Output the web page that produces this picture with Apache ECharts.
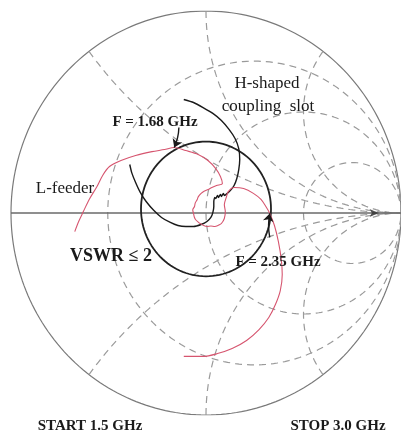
<!DOCTYPE html>
<html>
<head>
<meta charset="utf-8">
<script src="https://cdn.jsdelivr.net/npm/echarts@6/dist/echarts.min.js"></script>
<style>
  html, body { margin: 0; padding: 0; background: #fff; }
  #main { width: 401px; height: 431px; }
</style>
</head>
<body>
<div id="main"></div>
<script>
// smith chart grid values
var rCircles = [0.33, 1, 3];
var xArcs = [0.5, 1, 2];
var vswr = 2;

// reflection coefficient (re, im)
var lFeeder = [
  [-0.673, -0.092], [-0.653, -0.042], [-0.629, 0.007], [-0.599, 0.067], [-0.559, 0.131],
  [-0.530, 0.186], [-0.495, 0.230], [-0.436, 0.260], [-0.361, 0.285], [-0.277, 0.304],
  [-0.213, 0.314], [-0.163, 0.324], [-0.104, 0.309], [-0.040, 0.290], [0.010, 0.260],
  [0.050, 0.220], [0.074, 0.181], [0.084, 0.146], [0.054, 0.136], [0.030, 0.126],
  [0.015, 0.118], [-0.010, 0.108], [-0.025, 0.097], [-0.040, 0.080], [-0.045, 0.067],
  [-0.055, 0.050], [-0.059, 0.032], [-0.068, 0.015], [-0.064, -0.002], [-0.060, -0.020],
  [-0.054, -0.032], [-0.040, -0.045], [-0.030, -0.052], [-0.012, -0.062], [0.005, -0.067],
  [0.025, -0.064], [0.045, -0.067], [0.065, -0.060], [0.079, -0.052], [0.094, -0.027],
  [0.099, 0.007], [0.094, 0.042], [0.104, 0.077], [0.114, 0.106], [0.144, 0.126],
  [0.193, 0.121], [0.243, 0.097], [0.282, 0.067], [0.307, 0.032], [0.327, -0.002],
  [0.351, -0.062], [0.371, -0.141], [0.386, -0.230], [0.391, -0.304], [0.381, -0.384],
  [0.356, -0.453], [0.322, -0.517], [0.272, -0.577], [0.208, -0.631], [0.134, -0.671],
  [0.059, -0.696], [-0.015, -0.710], [-0.114, -0.710]
];
var hSlot = [
  [-0.114, 0.562], [-0.064, 0.547], [-0.015, 0.522], [0.035, 0.493], [0.079, 0.458],
  [0.119, 0.413], [0.149, 0.369], [0.168, 0.319], [0.173, 0.265], [0.168, 0.215],
  [0.158, 0.171], [0.144, 0.136], [0.129, 0.116], [0.109, 0.097], [0.094, 0.087],
  [0.089, 0.097], [0.079, 0.082], [0.074, 0.092], [0.064, 0.077], [0.059, 0.087],
  [0.050, 0.072], [0.045, 0.077], [0.040, 0.057], [0.040, 0.032], [0.035, 0.002],
  [0.025, -0.022], [0.005, -0.042], [-0.025, -0.057], [-0.064, -0.067], [-0.104, -0.067],
  [-0.144, -0.062], [-0.183, -0.047], [-0.228, -0.022], [-0.267, 0.012], [-0.307, 0.057],
  [-0.337, 0.102], [-0.361, 0.151], [-0.381, 0.200], [-0.391, 0.240]
];
var markerNames = ["F = 1.68 GHz", "F = 2.35 GHz"];
var markerPoints = [[-0.163, 0.324], [0.327, -0.002]];
var markerTails = [[-0.139, 0.423], [0.327, -0.121]];

function circle(cx, cy, r, a0, a1) {
  var pts = [];
  var n = 240;
  for (var i = 0; i <= n; i++) {
    var a = a0 + (a1 - a0) * i / n;
    pts.push([cx + r * Math.cos(a), cy + r * Math.sin(a)]);
  }
  return pts;
}

var dash = { color: "#9a9a9a", width: 1.2, type: [7, 5] };
var series = [];
function addLine(data, style) {
  series.push({ type: "line", data: data, showSymbol: false, silent: true, lineStyle: style, z: 1 });
}

addLine(circle(0, 0, 1, 0, 2 * Math.PI), { color: "#7a7a7a", width: 1.2 });
rCircles.forEach(function (r) {
  addLine(circle(r / (1 + r), 0, 1 / (1 + r), 0, 2 * Math.PI), dash);
});
xArcs.forEach(function (x) {
  var px = (x * x - 1) / (x * x + 1), py = 2 * x / (x * x + 1);
  var a = Math.atan2(py - 1 / x, px - 1);
  if (a < 0) a += 2 * Math.PI;
  var up = circle(1, 1 / x, 1 / x, a, 1.5 * Math.PI);
  addLine(up, dash);
  addLine(up.map(function (p) { return [p[0], -p[1]]; }), dash);
});
addLine([[-1, 0], [1.05, 0]], { color: "#6a6a6a", width: 1.5 });

var g = (vswr - 1) / (vswr + 1);
series.push({ type: "line", data: circle(0, 0.02, g, 0, 2 * Math.PI), showSymbol: false, silent: true,
  lineStyle: { color: "#222", width: 1.8 }, z: 3 });
series.push({ type: "line", data: hSlot, showSymbol: false, smooth: 0.2,
  lineStyle: { color: "#1a1a1a", width: 1.4 }, z: 4 });
series.push({ type: "line", data: lFeeder, showSymbol: false, smooth: 0.3,
  lineStyle: { color: "#d6556f", width: 1.1 }, z: 4 });
series.push({ type: "lines", coordinateSystem: "cartesian2d", z: 5,
  symbol: ["none", "arrow"], symbolSize: 8,
  lineStyle: { color: "#1a1a1a", width: 1.4, opacity: 1, curveness: 0.1 },
  data: markerPoints.map(function (p, i) { return { name: markerNames[i], coords: [markerTails[i], p] }; })
});
series.push({ type: "scatter", data: [[0.885, 0]], symbol: "arrow", symbolRotate: -90,
  symbolSize: [6, 9], itemStyle: { color: "#333" }, z: 5, silent: true });

var serif = "Liberation Serif, Times New Roman, serif";
function txt(t, x, y, size, bold) {
  return { type: "text", x: x, y: y, z: 10, style: { text: t, fill: "#1a1a1a",
    font: (bold ? "bold " : "") + size + "px " + serif, align: "center", verticalAlign: "middle" } };
}

var chart = echarts.init(document.getElementById("main"));
chart.setOption({
  animation: false,
  grid: { left: 11, top: 11, width: 404, height: 404 },
  xAxis: { type: "value", min: -1, max: 1, show: false },
  yAxis: { type: "value", min: -1, max: 1, show: false },
  series: series,
  graphic: [
    txt("H-shaped", 267, 84, 17, false),
    txt("coupling  slot", 268, 107, 17, false),
    txt(markerNames[0], 155, 122, 15, true),
    txt("L-feeder", 65, 189, 17, false),
    txt("VSWR ≤ 2", 111, 256, 18, true),
    txt(markerNames[1], 278, 262, 15, true),
    txt("START 1.5 GHz", 90, 426, 15, true),
    txt("STOP 3.0 GHz", 338, 426, 15, true)
  ]
});
</script>
</body>
</html>
